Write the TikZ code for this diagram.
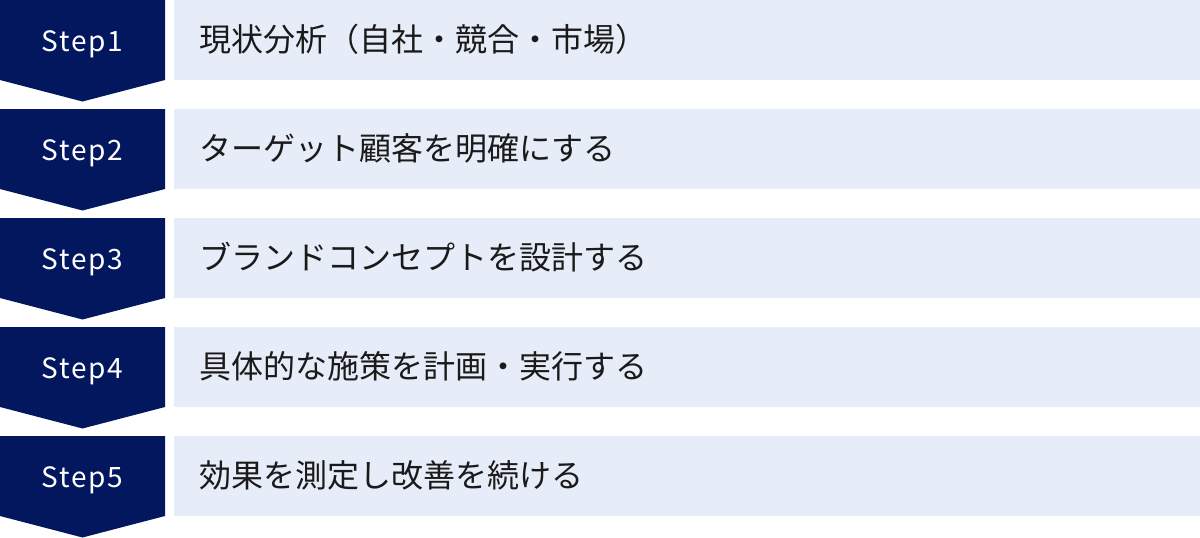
\documentclass[tikz,border=0pt]{standalone}
\usepackage{fontspec}
\setmainfont{Noto Sans CJK JP}
\newfontfamily\stepfont[LetterSpace=6]{Noto Sans CJK JP}
\definecolor{stepnavy}{HTML}{03175F}
\definecolor{steplight}{HTML}{E6ECF8}
\definecolor{steptext}{HTML}{1A1A1A}
\tikzset{>=latex}
\tikzset{
  steplabel/.style={text=white, anchor=base, inner sep=0pt, font=\stepfont\fontsize{28}{32}\selectfont},
  stepbox/.style={fill=steplight, anchor=north west, inner sep=0pt, minimum width=1026pt, minimum height=80pt},
  steptitle/.style={text=steptext, anchor=base west, inner sep=0pt, font=\fontsize{32}{36}\selectfont},
}

\begin{document}
\begin{tikzpicture}[x=1pt,y=-1pt]
  \useasboundingbox (0,0) rectangle (1200,538);
  \pgfmathsetmacro{\pitch}{109}
  \foreach \i/\txt in {1/現状分析（自社・競合・市場）,
                       2/ターゲット顧客を明確にする,
                       3/ブランドコンセプトを設計する,
                       4/具体的な施策を計画・実行する,
                       5/効果を測定し改善を続ける} {%
    \pgfmathsetmacro{\y}{\pitch*(\i-1)}
    \fill[stepnavy] (0,\y) -- (165,\y) -- (165,\y+80) -- (82.5,\y+101.5) -- (0,\y+80) -- cycle;
    \node[steplabel] (step\i) at (82.5,\y+51) {Step\i};
    \node[stepbox] (box\i) at (174,\y) {};
    \node[steptitle] (title\i) at (199,\y+51) {\txt};
  }
\end{tikzpicture}
\end{document}
